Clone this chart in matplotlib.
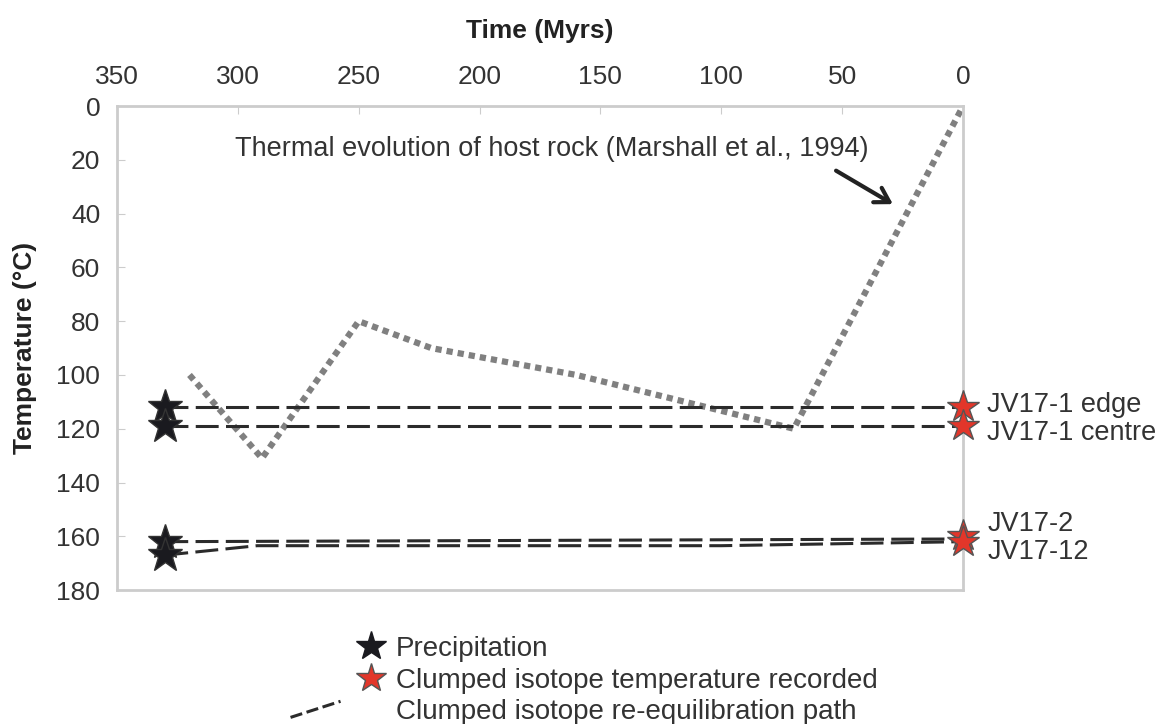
import matplotlib.pyplot as plt
from matplotlib.lines import Line2D
from matplotlib.legend_handler import HandlerLine2D

plt.rcParams['font.family'] = ['Liberation Sans', 'DejaVu Sans']

# thermal evolution of host rock
host_time = [320, 290, 250, 220, 160, 70, 0]
host_temp = [100, 131, 80, 90, 100, 120, 0]

# samples: precipitation (330 Myr) and recorded clumped temps (0 Myr)
samples = ['JV17-1 edge', 'JV17-1 centre', 'JV17-2', 'JV17-12']
precip_time = 330
precip_temp = [112, 119, 162, 167]
recorded_temp = [112, 119, 160, 162]

# re-equilibration paths
path_time = [[330, 0], [330, 0], [330, 0], [330, 292, 100, 0]]
path_temp = [[112, 112], [119, 119], [162, 161], [167, 163.5, 163.5, 162]]

label_y = [111, 121.5, 155.5, 166]

FS = 19.5
DASH = (0, (7.5, 2.4))


class SlantHandler(HandlerLine2D):
    # legend dash drawn slanted, left of the marker column, like the original
    def create_artists(self, legend, orig_handle, xdescent, ydescent,
                       width, height, fontsize, trans):
        line = Line2D([-width * 1.9, -width * 0.4],
                      [height * 0.5 - 5.8, height * 0.5 + 5.8])
        self.update_prop(line, orig_handle, legend)
        line.set_transform(trans)
        return [line]


fig = plt.figure(figsize=(11.58, 7.24), dpi=100)
ax = fig.add_axes([0.101, 0.185, 0.7306, 0.6685])

ax.plot(host_time, host_temp, color='#808080', lw=4.5, ls=(0, (1, 0.8)), zorder=2)

for t, y in zip(path_time, path_temp):
    ax.plot(t, y, color='#2b2b2b', lw=2.2, ls=DASH, zorder=3)

ax.plot([precip_time] * len(precip_temp), precip_temp, ls='none', marker='*',
        ms=26, color='#1a1a1f', mec='#333333', zorder=4)
ax.plot([0] * len(recorded_temp), recorded_temp, ls='none', marker='*',
        ms=24, color='#e2362a', mec='#555555', mew=1, zorder=4, clip_on=False)

for s, y in zip(samples, label_y):
    ax.text(-10, y, s, fontsize=FS, color='#333333', va='center', ha='left')

ax.text(39, 16, 'Thermal evolution of host rock (Marshall et al., 1994)',
        fontsize=FS, color='#333333', va='center', ha='right')
ax.annotate('', xy=(28, 37), xytext=(53.5, 23.5),
            arrowprops=dict(arrowstyle='->, head_width=0.6, head_length=1.0',
                            color='#222222', lw=3))

ax.set_xlim(350, 0)
ax.set_ylim(180, 0)
ax.set_xticks(range(350, -1, -50))
ax.set_yticks(range(0, 181, 20))
ax.xaxis.tick_top()
ax.xaxis.set_label_position('top')
ax.set_xlabel('Time (Myrs)', fontsize=19, fontweight='bold', labelpad=20, color='#222222')
ax.set_ylabel('Temperature (°C)', fontsize=19, fontweight='bold', labelpad=14, color='#222222')
ax.tick_params(direction='in', length=6, color='#cccccc', labelsize=19,
               labelcolor='#333333', pad=12)
for sp in ax.spines.values():
    sp.set_color('#cccccc')
    sp.set_linewidth(2)

dash_handle = Line2D([], [], color='#2b2b2b', lw=2.2, ls=(0, (4, 1.5)))
handles = [
    Line2D([], [], ls='none', marker='*', ms=22, color='#1a1a1f'),
    Line2D([], [], ls='none', marker='*', ms=22, color='#e2362a', mec='#555555'),
    dash_handle,
]
fig.legend(handles, ['Precipitation', 'Clumped isotope temperature recorded',
                     'Clumped isotope re-equilibration path'],
           loc='lower left', bbox_to_anchor=(0.284, -0.036), frameon=False,
           fontsize=20, labelcolor='#333333', handlelength=1.2,
           handletextpad=0.3, labelspacing=0.2,
           handler_map={dash_handle: SlantHandler()})

fig.savefig('out.png', dpi=100)
